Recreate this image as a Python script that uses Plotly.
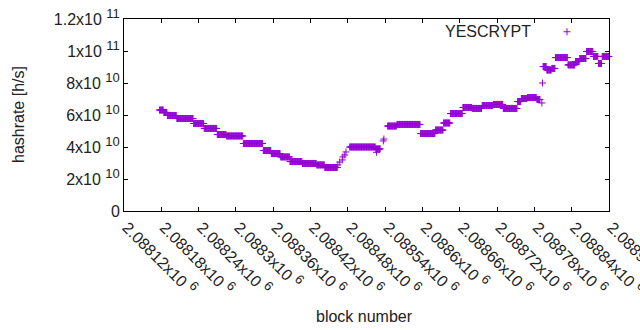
import plotly.graph_objects as go

# ---- data: hashrate estimates per block (step segments) ----
seg_start = [2088177, 2088184, 2088190, 2088205, 2088232, 2088249, 2088270, 2088285,
             2088312, 2088344, 2088357, 2088372, 2088387, 2088407, 2088430, 2088443,
             2088464, 2088467, 2088471, 2088472, 2088475, 2088477,
             2088483, 2088525, 2088526, 2088537, 2088538,
             2088544, 2088559, 2088597, 2088621, 2088634, 2088645, 2088665, 2088680,
             2088696, 2088714, 2088730, 2088753, 2088759, 2088769, 2088784,
             2088792, 2088793,
             2088794, 2088800, 2088808, 2088814, 2088834, 2088846, 2088853, 2088864,
             2088875, 2088883, 2088889]
seg_end = [2088183, 2088189, 2088204, 2088231, 2088248, 2088269, 2088284, 2088311,
           2088343, 2088356, 2088371, 2088386, 2088406, 2088429, 2088442, 2088463,
           2088464, 2088467, 2088471, 2088472, 2088475, 2088477,
           2088524, 2088532, 2088526, 2088537, 2088538,
           2088558, 2088596, 2088620, 2088633, 2088644, 2088664, 2088679, 2088695,
           2088713, 2088729, 2088752, 2088758, 2088768, 2088783, 2088789,
           2088792, 2088793,
           2088799, 2088807, 2088813, 2088833, 2088845, 2088852, 2088863, 2088874,
           2088882, 2088888, 2088900]
seg_value = [6.31e10, 6.16e10, 5.97e10, 5.78e10, 5.47e10, 5.16e10, 4.78e10, 4.69e10,
             4.22e10, 3.78e10, 3.59e10, 3.38e10, 3.09e10, 2.97e10, 2.88e10, 2.72e10,
             2.88e10, 3.06e10, 3.19e10, 3.38e10, 3.50e10, 3.69e10,
             4.00e10, 3.88e10, 3.67e10, 4.38e10, 4.50e10,
             5.31e10, 5.41e10, 4.84e10, 5.06e10, 5.50e10, 6.09e10, 6.47e10, 6.41e10,
             6.59e10, 6.66e10, 6.41e10, 6.84e10, 7.03e10, 7.09e10, 6.97e10,
             6.75e10, 8.00e10,
             9.03e10, 8.81e10, 8.91e10, 9.59e10, 9.13e10, 9.34e10, 9.53e10, 9.97e10,
             9.66e10, 9.22e10, 9.66e10]

x_tick_vals = [2088120, 2088180, 2088240, 2088300, 2088360, 2088420, 2088480,
               2088540, 2088600, 2088660, 2088720, 2088780, 2088840, 2088900]
x_tick_mant = ["2.08812", "2.08818", "2.08824", "2.0883", "2.08836", "2.08842", "2.08848",
               "2.08854", "2.0886", "2.08866", "2.08872", "2.08878", "2.08884", "2.0889"]
x_tick_exp = ["6"] * 14
y_tick_vals = [0, 2e10, 4e10, 6e10, 8e10, 1e11, 1.2e11]
y_tick_mant = ["0", "2", "4", "6", "8", "1", "1.2"]
y_tick_exp = ["", "10", "10", "10", "10", "11", "11"]

series_name = "YESCRYPT"
color = "#9400D3"

blocks, rates = [], []
for s, e, v in zip(seg_start, seg_end, seg_value):
    for b in range(s, e + 1):
        blocks.append(b)
        rates.append(v)


def sci_label(m, e):
    if not e:
        return m
    return f"{m}x10 <sup><span style='font-size:13px'>{e}</span></sup>"


x_tick_text = [sci_label(m, e) for m, e in zip(x_tick_mant, x_tick_exp)]
y_tick_text = [sci_label(m, e) for m, e in zip(y_tick_mant, y_tick_exp)]

FONT = "Liberation Sans, Arial, sans-serif"
TXT = "#222222"
L, R, T, B = 124, 609, 19, 211
PW, PH = R - L, B - T


def px(xp):
    return (xp - L) / PW


def py(yp):
    return (B - yp) / PH


fig = go.Figure()
fig.add_trace(go.Scatter(
    x=blocks, y=rates, mode="markers", name=series_name,
    marker=dict(symbol="cross-thin", size=5, color=color,
                line=dict(color=color, width=1)),
    showlegend=True, cliponaxis=False,
))

fig.update_layout(
    width=640, height=330,
    margin=dict(l=L, r=640 - R, t=T, b=330 - B, autoexpand=False),
    paper_bgcolor="white", plot_bgcolor="white",
    font=dict(family=FONT, size=16, color=TXT),
    showlegend=True,
    legend=dict(x=px(547), y=py(32), xanchor="left", yanchor="middle",
                font=dict(color="rgba(0,0,0,0)", size=15),
                bgcolor="rgba(0,0,0,0)", borderwidth=0),
)
axis_common = dict(showline=True, linecolor="black", linewidth=1, mirror="ticks",
                   ticks="inside", ticklen=4, tickcolor="black", showgrid=False,
                   zeroline=False, automargin=False, ticklabeloverflow="allow",
                   tickfont=dict(family=FONT, size=16, color=TXT))
fig.update_xaxes(range=[2088120, 2088900], tickmode="array", tickvals=x_tick_vals,
                 ticktext=x_tick_text, tickangle=45, ticklabelshift=3, **axis_common)
fig.update_yaxes(range=[0, 1.2e11], tickmode="array", tickvals=y_tick_vals,
                 ticktext=y_tick_text, **axis_common)

fig.add_annotation(text="hashrate [h/s]", xref="paper", yref="paper",
                   x=px(18), y=0.5, textangle=-90, showarrow=False,
                   xanchor="center", yanchor="middle",
                   font=dict(family=FONT, size=16, color=TXT))
fig.add_annotation(text="block number", xref="paper", yref="paper",
                   x=px(364), y=py(316), showarrow=False,
                   xanchor="center", yanchor="middle",
                   font=dict(family=FONT, size=16, color=TXT))
fig.add_annotation(text=series_name, xref="paper", yref="paper",
                   x=px(533), y=py(31), xanchor="right", yanchor="middle",
                   showarrow=False,
                   font=dict(family=FONT, size=16, color=TXT))

fig.write_html("out.html", config={"displayModeBar": False},
               post_script="document.body.style.margin='0px';")
